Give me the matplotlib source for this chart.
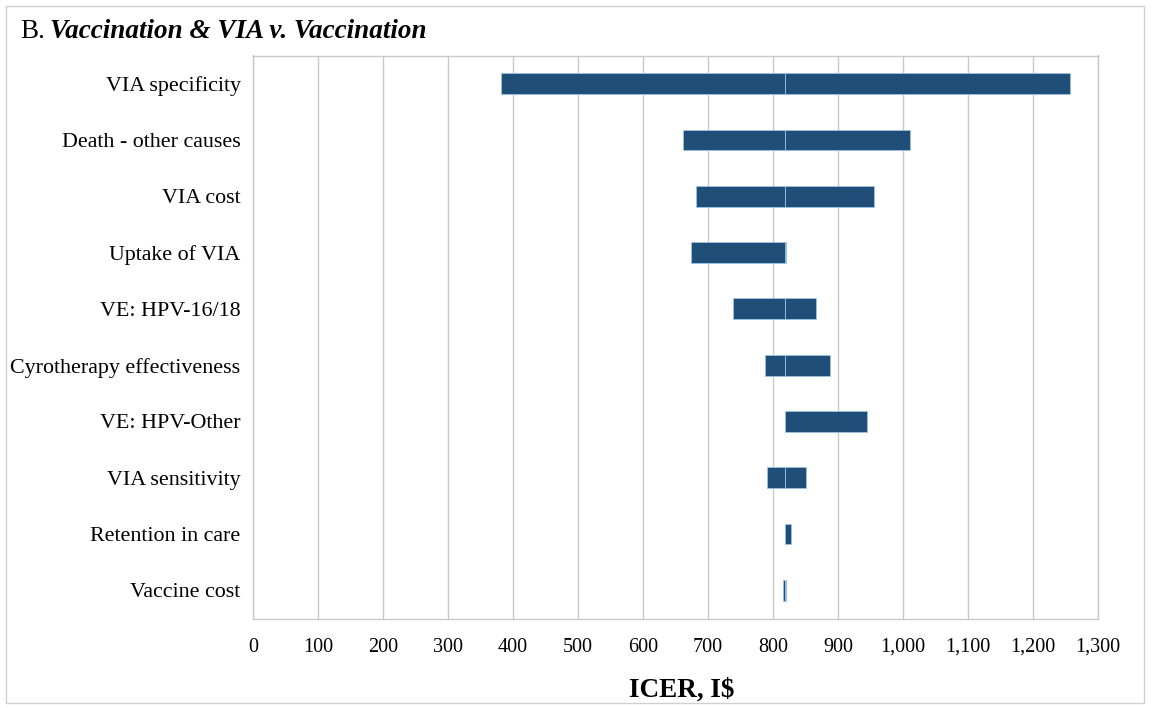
import matplotlib
matplotlib.use("Agg")
import matplotlib.pyplot as plt
from matplotlib.patches import Rectangle
from matplotlib.ticker import FuncFormatter

plt.rcParams['font.family'] = ['Liberation Serif', 'DejaVu Serif']

# tornado data (ICER, I$)
params = ['VIA specificity', 'Death - other causes', 'VIA cost', 'Uptake of VIA',
          'VE: HPV-16/18', 'Cyrotherapy effectiveness', 'VE: HPV-Other',
          'VIA sensitivity', 'Retention in care', 'Vaccine cost']
low = [381, 662, 682, 674, 739, 788, 819, 790, 819, 816]
high = [1257, 1011, 955, 820, 866, 888, 944, 851, 827, 820]
base = 819
xticks = list(range(0, 1301, 100))

bar_col = '#1F4E79'
edge_col = '#9DC3E6'

fig = plt.figure(figsize=(11.52, 7.08), dpi=100)
ax = fig.add_axes([253 / 1152, 1 - 618.5 / 708, (1098 - 253) / 1152, (618.5 - 55.5) / 708])

y = list(range(len(params)))
h = 0.37
for i in y:
    lo, hi = low[i], high[i]
    if lo < base:
        ax.barh(i, base - lo, left=lo, height=h, color=bar_col, edgecolor=edge_col, linewidth=0.6, zorder=3)
    if hi > base:
        ax.barh(i, hi - base, left=base, height=h, color=bar_col, edgecolor=edge_col, linewidth=0.6, zorder=3)

ax.set_xlim(0, 1300)
ax.set_ylim(len(params) - 0.5, -0.5)
ax.set_yticks(y)
ax.set_yticklabels(params, fontsize=15.8)
ax.set_xticks(xticks)
ax.xaxis.set_major_formatter(FuncFormatter(lambda v, p: f'{int(v):,}'))
ax.tick_params(axis='x', labelsize=14.5, length=0, pad=14)
ax.tick_params(axis='y', length=0, pad=9)
ax.grid(axis='x', color='#C8C8C8', linewidth=1, zorder=0)
for s in ax.spines.values():
    s.set_color('#C8C8C8')
    s.set_linewidth(1)

ax.set_xlabel('ICER, I$', fontsize=19.5, fontweight='bold')
ax.xaxis.set_label_coords(0.507, -0.105)

# title: "B." plain, rest bold italic
t1 = fig.text(20 / 1152, 1 - 32 / 708, 'B.', fontsize=19.5, va='center', ha='left')
fig.canvas.draw()
bb = t1.get_window_extent()
fig.text(bb.x1 / 1152 + 5 / 1152, 1 - 32 / 708, 'Vaccination & VIA v. Vaccination',
         fontsize=19.5, va='center', ha='left', fontweight='bold', fontstyle='italic')

# outer frame
fig.patches.append(Rectangle((6 / 1152, 5 / 708), 1138 / 1152, 697 / 708, transform=fig.transFigure,
                             fill=False, edgecolor='#D0D0D0', linewidth=1))

fig.savefig('out.png', dpi=100)
